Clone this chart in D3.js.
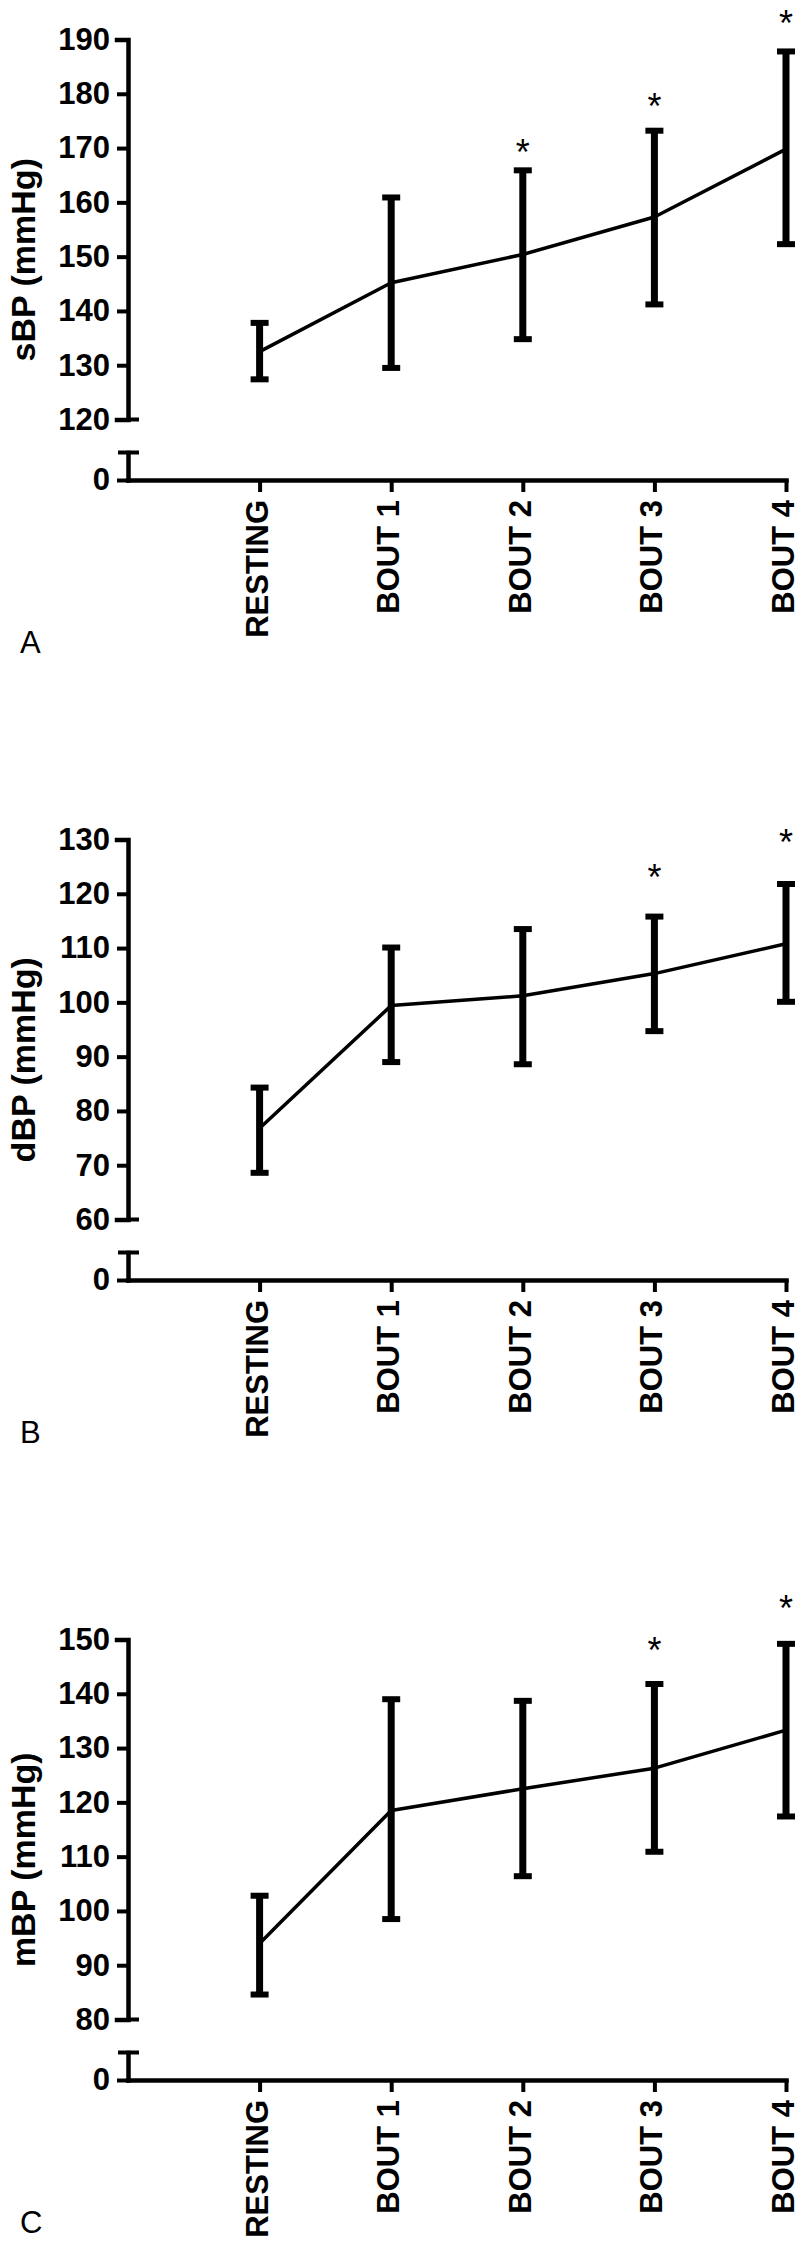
<!DOCTYPE html>
<html>
<head>
<meta charset="utf-8">
<script src="https://cdn.jsdelivr.net/npm/d3@7/dist/d3.min.js"></script>
<style>
  html, body { margin: 0; padding: 0; background: #fff; }
  svg { display: block; }
  text { font-family: "Liberation Sans", Arial, Helvetica, sans-serif; }
</style>
</head>
<body>
<svg id="chart" width="800" height="2244"></svg>
<script>
// ---- data ----
const categories = ["RESTING", "BOUT 1", "BOUT 2", "BOUT 3", "BOUT 4"];

const sbpMean = [132.5, 145.2, 150.4, 157.3, 169.8];
const sbpLow  = [127.4, 129.5, 134.8, 141.2, 152.3];
const sbpHigh = [137.8, 160.9, 165.9, 173.2, 187.8];
const sbpStars = [null, null, 170.6, 179.2, 194.5];
const sbpTicks = [120, 130, 140, 150, 160, 170, 180, 190];

const dbpMean = [76.8, 99.4, 101.2, 105.3, 110.8];
const dbpLow  = [68.6, 89.0, 88.6, 94.7, 100.1];
const dbpHigh = [84.3, 110.1, 113.5, 115.8, 121.8];
const dbpStars = [null, null, null, 124.4, 131.0];
const dbpTicks = [60, 70, 80, 90, 100, 110, 120, 130];

const mbpMean = [94.0, 118.5, 122.5, 126.3, 133.3];
const mbpLow  = [84.6, 98.5, 106.4, 110.9, 117.4];
const mbpHigh = [102.8, 139.0, 138.7, 141.8, 149.2];
const mbpStars = [null, null, null, 149.4, 157.1];
const mbpTicks = [80, 90, 100, 110, 120, 130, 140, 150];

const zeroTick = [0];
const yTitles = ["sBP (mmHg)", "dBP (mmHg)", "mBP (mmHg)"];
const panelLetters = ["A", "B", "C"];

const panels = [
  { mean: sbpMean, low: sbpLow, high: sbpHigh, stars: sbpStars, ticks: sbpTicks, title: yTitles[0], letter: panelLetters[0] },
  { mean: dbpMean, low: dbpLow, high: dbpHigh, stars: dbpStars, ticks: dbpTicks, title: yTitles[1], letter: panelLetters[1] },
  { mean: mbpMean, low: mbpLow, high: mbpHigh, stars: mbpStars, ticks: mbpTicks, title: yTitles[2], letter: panelLetters[2] }
];

// ---- layout ----
const panelH = 800;
const axisX = 128;
const xRight = 786;
const yTop = 39.5, yBreak = 419.5, yCap = 452.5, yZero = 480;
const letterY = [653, 643, 633];

const svg = d3.select("#chart");

panels.forEach((p, pi) => {
  const g = svg.append("g").attr("transform", `translate(0,${pi * panelH})`);

  const x = d3.scaleLinear().domain([-1, categories.length - 1]).range([axisX, xRight]);
  const y = d3.scaleLinear().domain([d3.min(p.ticks), d3.max(p.ticks)]).range([yBreak, yTop]);
  const yLow = d3.scaleLinear().domain([0, 1]).range([yZero, yCap]);

  // upper y axis
  const ya = g.append("g").attr("transform", `translate(${axisX},0)`)
    .call(d3.axisLeft(y).tickValues(p.ticks).tickFormat(d3.format("d"))
      .tickSize(11).tickSizeOuter(11).tickPadding(7));
  // lower y axis (0)
  const yb = g.append("g").attr("transform", `translate(${axisX},0)`)
    .call(d3.axisLeft(yLow).tickValues(zeroTick).tickFormat(d3.format("d"))
      .tickSize(11).tickSizeOuter(0).tickPadding(7));
  // x axis
  const xa = g.append("g").attr("transform", `translate(0,${yZero})`)
    .call(d3.axisBottom(x).tickValues(d3.range(categories.length)).tickFormat(i => categories[i])
      .tickSize(12).tickSizeOuter(0).tickPadding(8));

  [ya, yb, xa].forEach(a => {
    a.select(".domain").attr("stroke", "#000").attr("stroke-width", 4.5).attr("stroke-linecap", "square");
    a.selectAll(".tick line").attr("stroke", "#000").attr("stroke-width", 4);
    a.selectAll("text").attr("fill", "#000").attr("font-size", 31).attr("font-weight", "bold")
      .attr("font-family", "'Liberation Sans', Arial, sans-serif");
  });

  xa.selectAll(".tick text")
    .attr("transform", "rotate(-90)")
    .attr("text-anchor", "end")
    .attr("x", -20).attr("y", 0).attr("dy", "0.24em");

  // axis break caps
  g.append("line").attr("x1", axisX).attr("x2", axisX + 11)
    .attr("y1", y(d3.min(p.ticks))).attr("y2", y(d3.min(p.ticks)))
    .attr("stroke", "#000").attr("stroke-width", 4);
  g.append("line").attr("x1", axisX - 10).attr("x2", axisX + 11)
    .attr("y1", yLow(1)).attr("y2", yLow(1))
    .attr("stroke", "#000").attr("stroke-width", 4);

  // y title
  g.append("text")
    .attr("transform", `translate(35,${(yTop + yZero) / 2}) rotate(-90)`)
    .attr("text-anchor", "middle")
    .attr("font-size", 34).attr("font-weight", "bold")
    .text(p.title);

  const idx = d3.range(categories.length);

  // mean line
  g.append("path")
    .datum(idx)
    .attr("fill", "none").attr("stroke", "#000").attr("stroke-width", 3.5)
    .attr("stroke-linejoin", "round")
    .attr("d", d3.line().x(i => x(i)).y(i => y(p.mean[i])));

  // error bars
  const eb = g.append("g");
  eb.selectAll(".v").data(idx).join("line")
    .attr("x1", i => x(i)).attr("x2", i => x(i))
    .attr("y1", i => y(p.low[i])).attr("y2", i => y(p.high[i]))
    .attr("stroke", "#000").attr("stroke-width", 7);
  eb.selectAll(".cl").data(idx).join("line")
    .attr("x1", i => x(i) - 9).attr("x2", i => x(i) + 9)
    .attr("y1", i => y(p.low[i])).attr("y2", i => y(p.low[i]))
    .attr("stroke", "#000").attr("stroke-width", 6);
  eb.selectAll(".ch").data(idx).join("line")
    .attr("x1", i => x(i) - 9).attr("x2", i => x(i) + 9)
    .attr("y1", i => y(p.high[i])).attr("y2", i => y(p.high[i]))
    .attr("stroke", "#000").attr("stroke-width", 6);

  // significance stars
  g.selectAll(".star").data(idx.filter(i => p.stars[i] != null)).join("text")
    .attr("x", i => x(i)).attr("y", i => y(p.stars[i]))
    .attr("dy", "0.57em")
    .attr("text-anchor", "middle")
    .attr("font-size", 36)
    .text("*");

  // panel letter
  g.append("text")
    .attr("x", 20).attr("y", letterY[pi])
    .attr("font-size", 31)
    .attr("font-family", "'Liberation Sans Narrow', 'Arial Narrow', 'Liberation Sans', Arial, sans-serif")
    .text(p.letter);
});
</script>
</body>
</html>
